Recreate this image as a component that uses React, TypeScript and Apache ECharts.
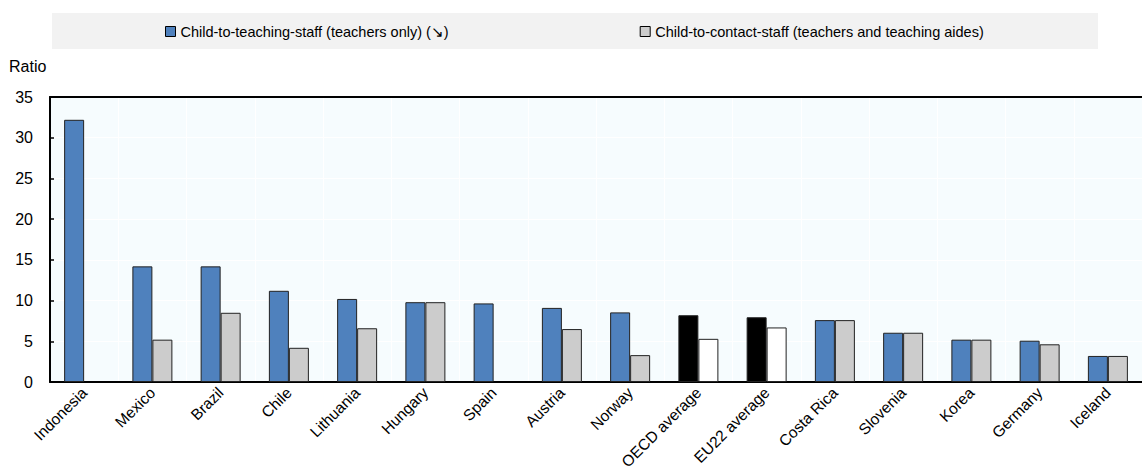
import React, { useEffect, useRef } from "react";
import * as echarts from "echarts";

const categories = [
  "Indonesia", "Mexico", "Brazil", "Chile", "Lithuania", "Hungary", "Spain", "Austria",
  "Norway", "OECD average", "EU22 average", "Costa Rica", "Slovenia", "Korea", "Germany", "Iceland",
];
const teachingStaff = [32.2, 14.2, 14.2, 11.2, 10.2, 9.8, 9.65, 9.1, 8.55, 8.2, 7.95, 7.6, 6.05, 5.2, 5.07, 3.2];
const contactStaff: (number | null)[] = [null, 5.2, 8.5, 4.2, 6.6, 9.8, null, 6.5, 3.3, 5.3, 6.7, 7.6, 6.05, 5.2, 4.63, 3.2];
const averageCats = ["OECD average", "EU22 average"];
const seriesNames = [
  "Child-to-teaching-staff (teachers only) (\u2198)",
  "Child-to-contact-staff (teachers and teaching aides)",
];
const yTicks = { min: 0, max: 35, interval: 5 };

const FONT = "'Liberation Sans', Arial, sans-serif";
const BLUE = "#4f81bd";
const GREY = "#cccccc";

export default function App() {
  const ref = useRef<HTMLDivElement>(null);
  useEffect(() => {
    if (!ref.current) return;
    const chart = echarts.init(ref.current, undefined, { renderer: "svg" });
    const isAvg = (c: string) => averageCats.includes(c);
    chart.setOption({
      animation: false,
      textStyle: { fontFamily: FONT },
      graphic: [
        { type: "rect", shape: { x: 52, y: 13, width: 1046, height: 36 }, style: { fill: "#f2f2f2" }, z: -10 },
        { type: "text", left: 9, top: 58, style: { text: "Ratio", font: `16px ${FONT}`, fill: "#000" } },
      ],
      legend: {
        left: 165,
        top: 24,
        padding: 0,
        itemGap: 191,
        itemWidth: 10,
        itemHeight: 10,
        icon: "rect",
        itemStyle: { borderColor: "#000", borderWidth: 1 },
        textStyle: { fontFamily: FONT, fontSize: 14.5, color: "#000" },
        data: seriesNames,
      },
      grid: {
        left: 50,
        right: 0,
        top: 97,
        bottom: 90,
        outerBoundsMode: "none",
        show: true,
        backgroundColor: "#f6fcfe",
        borderWidth: 0,
      },
      xAxis: [
        {
          type: "category",
          data: categories,
          axisLine: { lineStyle: { color: "#000", width: 2 } },
          axisTick: { inside: true, length: 5, lineStyle: { color: "#000", width: 2 } },
          splitLine: { show: true, lineStyle: { color: "#ffffff", width: 1 } },
          axisLabel: {
            rotate: 45,
            margin: 8,
            fontFamily: FONT,
            fontSize: 15.5,
            color: "#000",
            interval: 0,
          },
        },
        {
          type: "category",
          position: "top",
          data: categories,
          axisLine: { lineStyle: { color: "#000", width: 2 } },
          axisTick: { show: false },
          axisLabel: { show: false },
        },
      ],
      yAxis: {
        type: "value",
        min: yTicks.min,
        max: yTicks.max,
        interval: yTicks.interval,
        axisLine: { show: true, lineStyle: { color: "#000", width: 2 } },
        axisTick: { show: true, inside: true, length: 4, lineStyle: { color: "#000", width: 1.5 } },
        splitLine: { show: true, lineStyle: { color: "#ffffff", width: 1 } },
        axisLabel: { fontFamily: FONT, fontSize: 16, color: "#000", margin: 17 },
      },
      series: [
        {
          name: seriesNames[0],
          type: "bar",
          barWidth: 20,
          barGap: "0%",
          itemStyle: { color: BLUE, borderColor: "#222", borderWidth: 1 },
          data: teachingStaff.map((v, i) =>
            isAvg(categories[i]) ? { value: v, itemStyle: { color: "#000000" } } : v
          ),
        },
        {
          name: seriesNames[1],
          type: "bar",
          barWidth: 20,
          barGap: "0%",
          itemStyle: { color: GREY, borderColor: "#222", borderWidth: 1 },
          data: contactStaff.map((v, i) =>
            v === null ? "-" : isAvg(categories[i]) ? { value: v, itemStyle: { color: "#ffffff" } } : v
          ),
        },
      ],
    });
    return () => chart.dispose();
  }, []);
  return (
    <div
      ref={ref}
      style={{ position: "fixed", left: 0, top: 0, width: 1142, height: 472, background: "#fff" }}
    />
  );
}
